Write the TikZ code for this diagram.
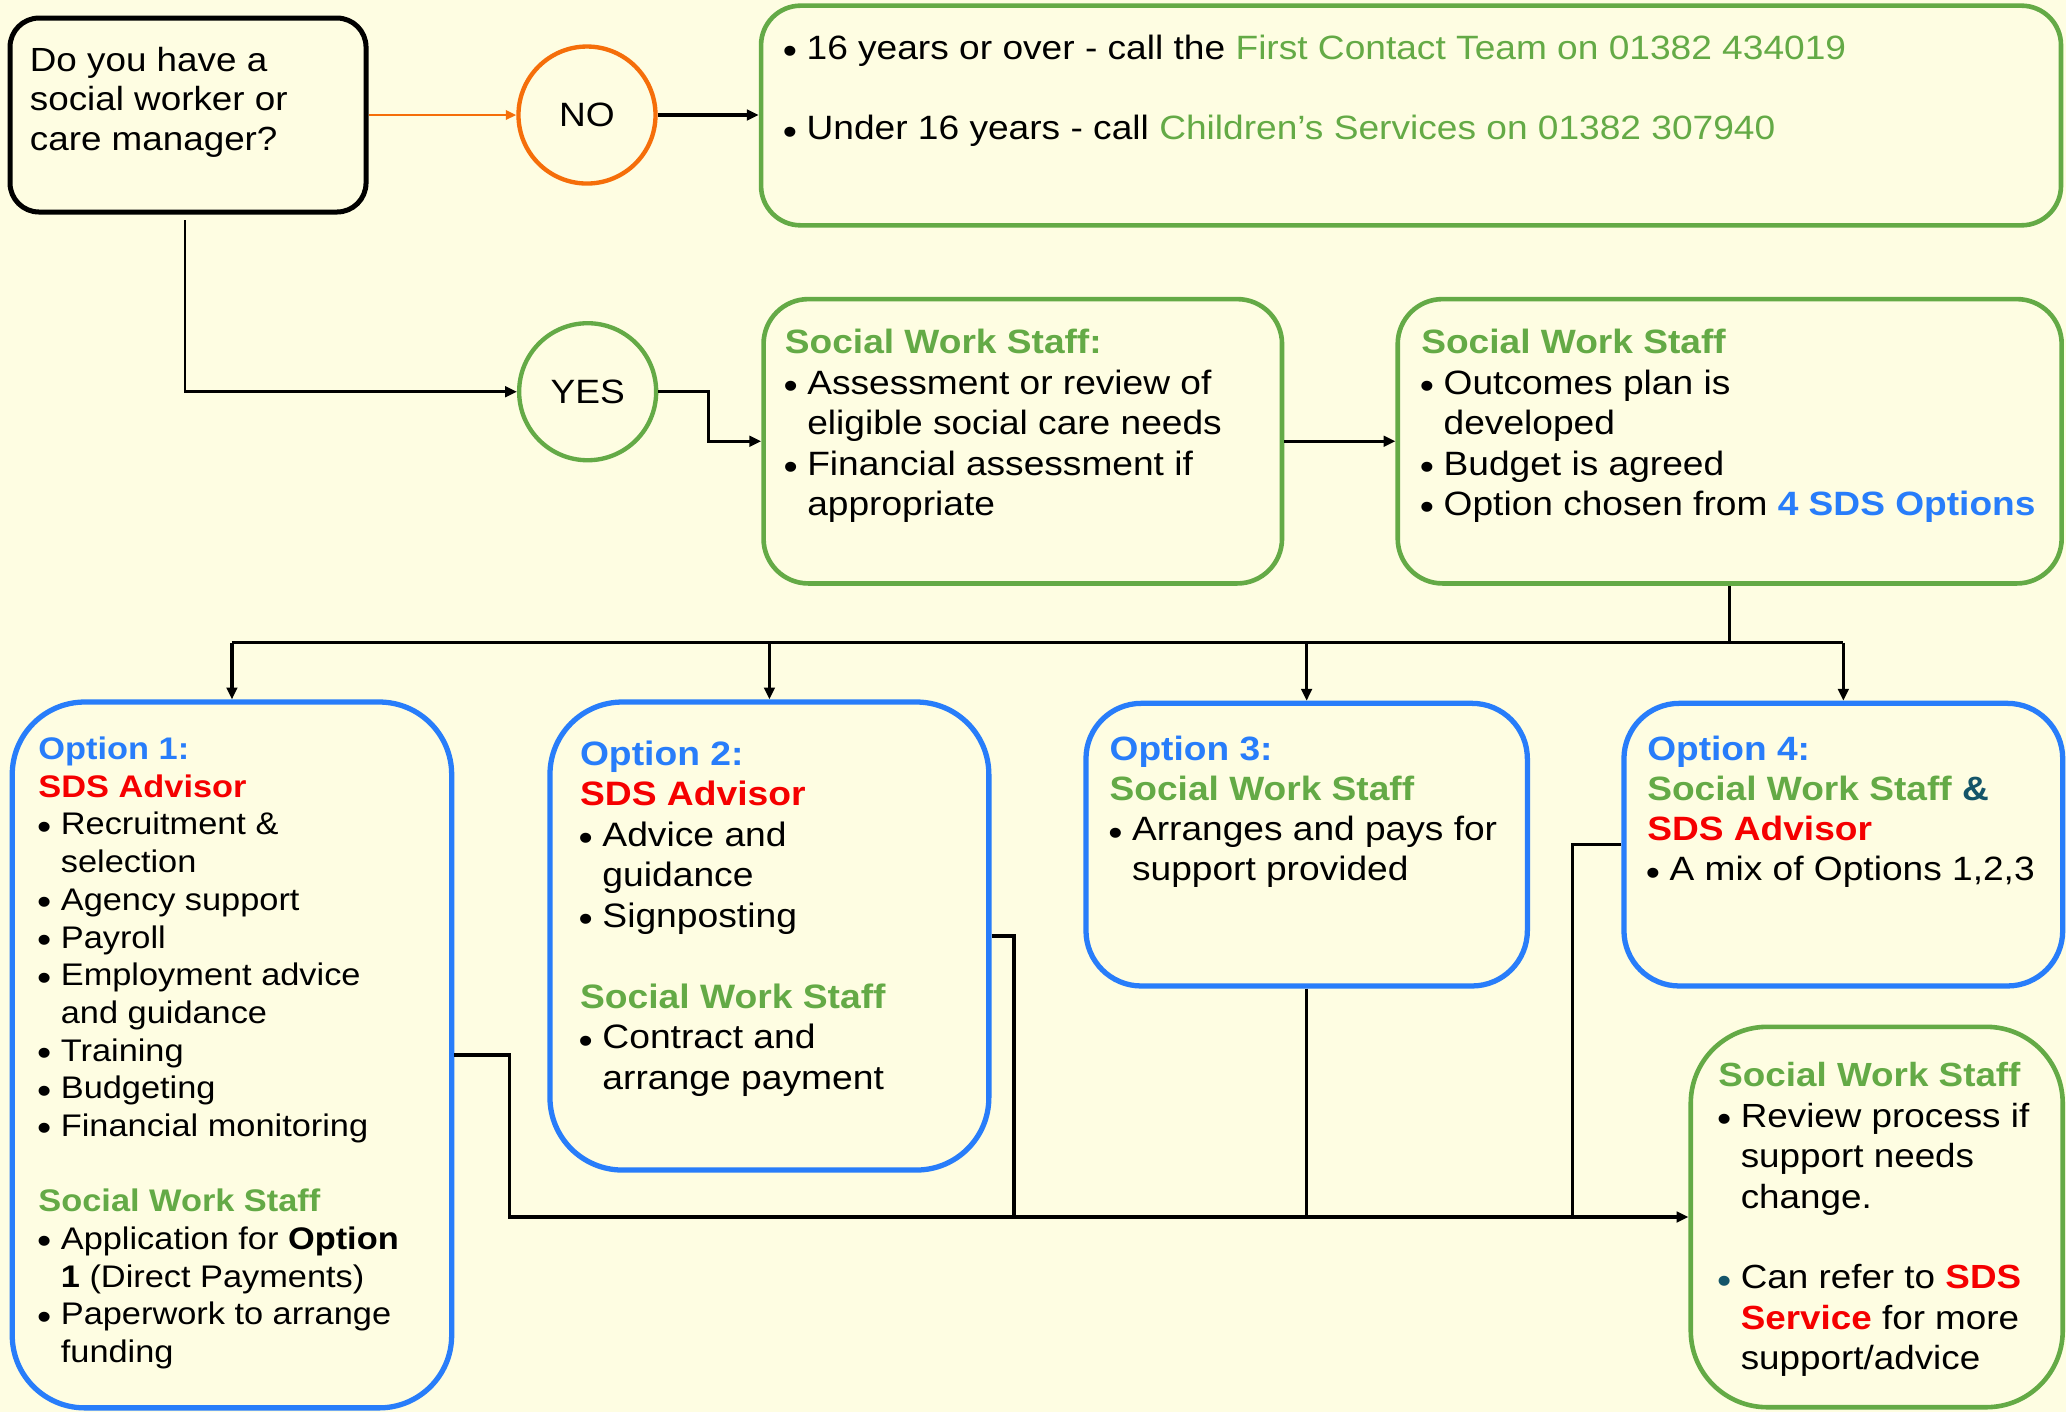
\documentclass[tikz,border=0pt]{standalone}
\usepackage{fontspec}
\setmainfont{Liberation Sans}[FakeStretch=1.1]
\usetikzlibrary{arrows.meta}
\definecolor{bg}{RGB}{254,253,226}
\definecolor{sgreen}{RGB}{100,170,70}
\definecolor{sblue}{RGB}{40,125,250}
\definecolor{sred}{RGB}{245,0,0}
\definecolor{sorange}{RGB}{245,110,10}
\definecolor{steal}{RGB}{20,85,105}
\newcommand\sdsbulc[1]{\makebox[17pt][l]{\hspace{-1pt}\raisebox{-3.3pt}{\color{#1}\fontsize{28}{28}\selectfont •}}}
\newcommand\sdsbul{\sdsbulc{black}}
\newcommand\sdsind{\hspace*{17pt}}
\newcommand\sdsst{\rule{0pt}{22pt}}
\newcommand\gT[1]{\textcolor{sgreen}{\textbf{#1}}}
\newcommand\bT[1]{\textcolor{sblue}{\textbf{#1}}}
\newcommand\rT[1]{\textcolor{sred}{\textbf{#1}}}
\begin{document}
\begin{tikzpicture}[x=1pt,y=-1pt,
  conn/.style={line width=2.5pt},
  arr/.style={conn,-{Triangle[length=9pt,width=8pt]}},
  qbox/.style={rectangle,draw=black,line width=3.8pt,rounded corners=22pt,inner sep=0pt},
  gbox/.style={rectangle,draw=sgreen,line width=3.5pt,inner sep=0pt},
  obox/.style={rectangle,draw=sblue,line width=4pt,inner sep=0pt},
  circ/.style={circle,line width=3.3pt,minimum size=104pt,inner sep=0pt,font=\fontsize{25.6}{30}\selectfont},
  txt/.style={anchor=north west,inner sep=0pt,align=left},
]
\fill[bg] (0,0) rectangle (1568,1072);
\useasboundingbox (0,0) rectangle (1568,1072);

% boxes
\node[qbox,minimum width=270.2pt,minimum height=147.2pt] (q) at (142.7,87.3) {};
\node[circ,draw=sorange] (no) at (445.5,87.3) {NO};
\node[gbox,rounded corners=30pt,minimum width=986.6pt,minimum height=166.7pt] (top) at (1070.9,87.65) {};
\node[circ,draw=sgreen] (yes) at (446,297.3) {YES};
\node[gbox,rounded corners=34pt,minimum width=393.5pt,minimum height=215.8pt] (b2) at (776.25,334.9) {};
\node[gbox,rounded corners=34pt,minimum width=503.9pt,minimum height=215.8pt] (b3) at (1312.75,334.9) {};
\node[obox,rounded corners=55pt,minimum width=333.5pt,minimum height=535.7pt] (o1) at (176.05,800.65) {};
\node[obox,rounded corners=55pt,minimum width=333.1pt,minimum height=355.2pt] (o2) at (583.95,710.4) {};
\node[obox,rounded corners=42pt,minimum width=335pt,minimum height=214.5pt] (o3) at (991.7,641.05) {};
\node[obox,rounded corners=42pt,minimum width=333pt,minimum height=214.5pt] (o4) at (1399,641.05) {};
\node[gbox,rounded corners=58pt,minimum width=282.3pt,minimum height=288.7pt] (fin) at (1424.35,923.65) {};

% texts
\node[txt,font=\fontsize{25.4}{30.3}\selectfont] (qt) at (22.5,31.7)
 {\sdsst Do you have a\\social worker or\\care manager?};

\node[txt,font=\fontsize{25.6}{30.5}\selectfont] (topt) at (595,23)
 {\sdsst\sdsbul 16 years or over - call the \textcolor{sgreen}{First Contact Team on 01382 434019}\\[30.5pt]
  \sdsbul Under 16 years - call \textcolor{sgreen}{Children’s Services on 01382 307940}};

\node[txt,font=\fontsize{25.6}{30.7}\selectfont] (b2t) at (595.5,246.2)
 {\sdsst\gT{Social Work Staff:}\\
  \sdsbul Assessment or review of\\
  \sdsind eligible social care needs\\
  \sdsbul Financial assessment if\\
  \sdsind appropriate};

\node[txt,font=\fontsize{25.6}{30.7}\selectfont] (b3t) at (1078.5,246.2)
 {\sdsst\gT{Social Work Staff}\\
  \sdsbul Outcomes plan is\\
  \sdsind developed\\
  \sdsbul Budget is agreed\\
  \sdsbul Option chosen from \bT{4 SDS Options}};

\node[txt,font=\fontsize{23.7}{28.6}\selectfont] (o1t) at (29,554.3)
 {\sdsst\bT{Option 1:}\\
  \rT{SDS Advisor}\\
  \sdsbul Recruitment \&\\
  \sdsind selection\\
  \sdsbul Agency support\\
  \sdsbul Payroll\\
  \sdsbul Employment advice\\
  \sdsind and guidance\\
  \sdsbul Training\\
  \sdsbul Budgeting\\
  \sdsbul Financial monitoring\\[28.6pt]
  \gT{Social Work Staff}\\
  \sdsbul Application for \textbf{Option}\\
  \sdsind\textbf{1} (Direct Payments)\\
  \sdsbul Paperwork to arrange\\
  \sdsind funding};

\node[txt,font=\fontsize{25.7}{30.7}\selectfont] (o2t) at (440,558.8)
 {\sdsst\bT{Option 2:}\\
  \rT{SDS Advisor}\\
  \sdsbul Advice and\\
  \sdsind guidance\\
  \sdsbul Signposting\\[30.7pt]
  \gT{Social Work Staff}\\
  \sdsbul Contract and\\
  \sdsind arrange payment};

\node[txt,font=\fontsize{25.6}{30.5}\selectfont] (o3t) at (842,554.9)
 {\sdsst\bT{Option 3:}\\
  \gT{Social Work Staff}\\
  \sdsbul Arranges and pays for\\
  \sdsind support provided};

\node[txt,font=\fontsize{25.6}{30.5}\selectfont] (o4t) at (1250,554.9)
 {\sdsst\bT{Option 4:}\\
  \gT{Social Work Staff} \textcolor{steal}{\textbf{\&}}\\
  \rT{SDS Advisor}\\
  \sdsbul A mix of Options 1,2,3};

\node[txt,font=\fontsize{25.4}{30.7}\selectfont] (fint) at (1304,802.5)
 {\sdsst\gT{Social Work Staff}\\
  \sdsbul Review process if\\
  \sdsind support needs\\
  \sdsind change.\\[30.7pt]
  \sdsbulc{steal}Can refer to \rT{SDS}\\
  \sdsind\rT{Service} for more\\
  \sdsind support/advice};

% connectors
\draw[sorange,line width=2.2pt,-{Triangle[length=8pt,width=7pt]}] (q.east) -- (no.west);
\draw[arr] (no.east) -- (no.east -| top.west);
\coordinate (qs) at (140.4,167);
\draw[arr,line width=2.2pt] (qs) |- (yes.west);
\draw[arr] (yes.east) -- ++(38,0) |- (b2.west);
\draw[arr] (b2.east) -- (b3.west);
\coordinate (bus) at (0,487.8);
\draw[conn] (b3.south) -- (b3.south |- bus);
\draw[conn] (o1.north |- bus) -- (o4.north |- bus);
\foreach \o in {o1,o2,o3,o4} \draw[arr] (\o.north |- bus) -- (\o.north);
\coordinate (mj) at (o3.south |- fin.west);
\draw[arr] (o1.east) -- ++(42,0) |- (fin.west);
\draw[conn] (o2.east) -- ++(17,0) |- (mj);
\draw[conn] (o3.south) -- (mj);
\draw[conn] (o4.west) -- ++(-37,0) |- (mj);
\end{tikzpicture}
\end{document}
